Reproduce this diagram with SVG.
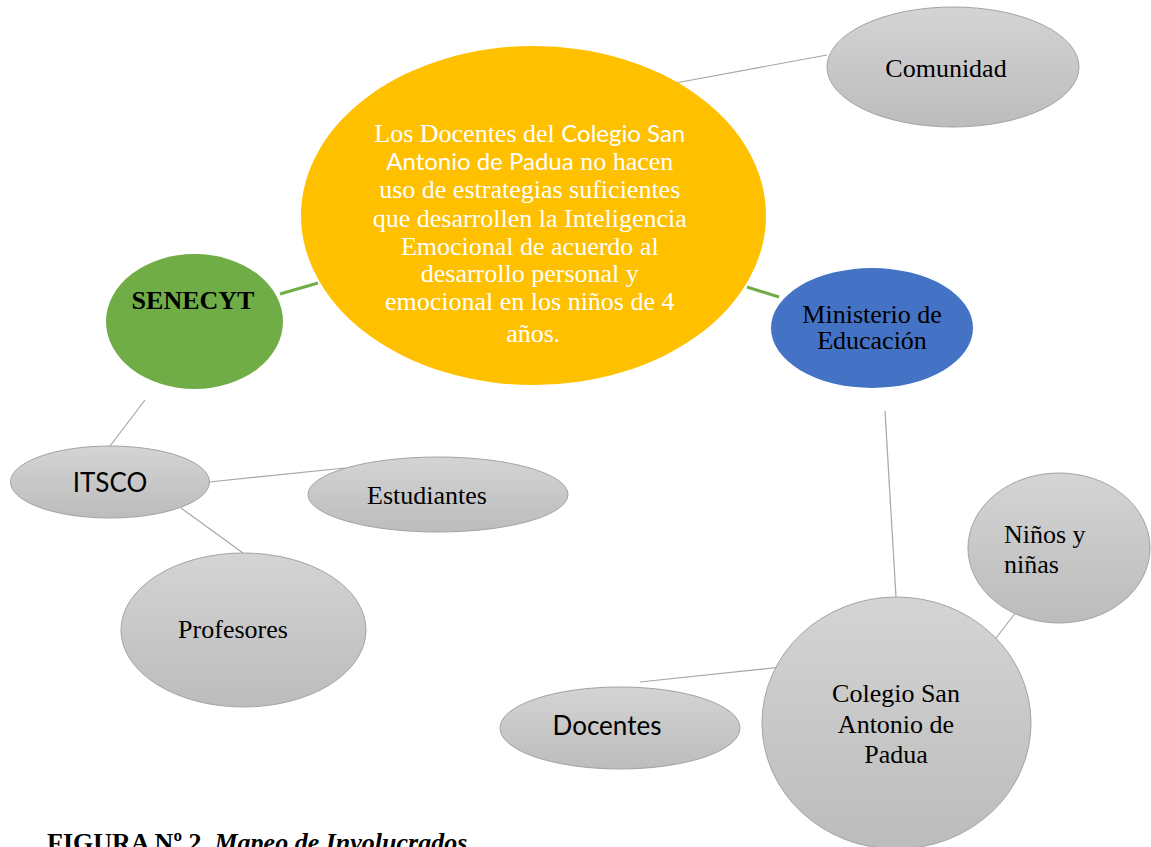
<svg xmlns="http://www.w3.org/2000/svg" width="1151" height="847" viewBox="0 0 1151 847">
<defs>
<linearGradient id="g" x1="0" y1="0" x2="0" y2="1">
<stop offset="0" stop-color="#d4d4d4"/>
<stop offset="1" stop-color="#bcbcbc"/>
</linearGradient>
<style>
.gray{fill:url(#g);stroke:#a3a3a3;stroke-width:1}
.t{font-family:"Liberation Serif","Times New Roman",serif;font-size:26px;fill:#000}
.s{font-family:Lato,"Liberation Sans",sans-serif}
.c{stroke:#a6a6a6;stroke-width:1.2;fill:none}
.gr{stroke:#70AD47;stroke-width:3;fill:none}
</style>
</defs>
<rect width="1151" height="847" fill="#fff"/>
<g id="connectors">
<line class="c" x1="670" y1="84" x2="827" y2="55"/>
<line class="gr" x1="280" y1="294" x2="318" y2="283"/>
<line class="gr" x1="747" y1="287" x2="779" y2="297"/>
<line class="c" x1="145" y1="400" x2="110" y2="446"/>
<line class="c" x1="209" y1="482" x2="345" y2="468"/>
<line class="c" x1="181" y1="508" x2="243" y2="553"/>
<line class="c" x1="885" y1="411" x2="896" y2="597"/>
<line class="c" x1="1016" y1="612" x2="993" y2="642"/>
<line class="c" x1="640" y1="682" x2="782" y2="667"/>
</g>
<g id="central">
<ellipse cx="533.5" cy="215.5" rx="232.5" ry="169.5" fill="#FFC000"/>
<text class="t" text-anchor="middle" style="fill:#fff">
<tspan x="533" y="142">Los Docentes del <tspan class="s" font-size="24">Colegio San</tspan></tspan>
<tspan x="533" y="170"><tspan class="s" font-size="24">Antonio de Padua</tspan> no hacen</tspan>
<tspan x="533" y="198">uso de estrategias suficientes</tspan>
<tspan x="533" y="227">que desarrollen la Inteligencia</tspan>
<tspan x="533" y="255">Emocional de acuerdo al</tspan>
<tspan x="533" y="282">desarrollo personal y</tspan>
<tspan x="533" y="310">emocional en los niños de 4</tspan>
<tspan x="533" y="342">años<tspan class="s" font-size="24">.</tspan></tspan>
</text>
</g>
<g id="comunidad">
<ellipse class="gray" cx="953" cy="67" rx="126" ry="60"/>
<text class="t" x="946" y="77" text-anchor="middle">Comunidad</text>
</g>
<g id="senecyt">
<ellipse cx="194.5" cy="321.5" rx="88.5" ry="67.5" fill="#70AD47"/>
<text class="t" x="193" y="309" text-anchor="middle" font-weight="bold" font-size="24">SENECYT</text>
</g>
<g id="ministerio">
<ellipse cx="872" cy="328" rx="101" ry="60" fill="#4472C4"/>
<text class="t" text-anchor="middle" font-size="25"><tspan x="872" y="323">Ministerio de</tspan><tspan x="872" y="349">Educación</tspan></text>
</g>
<g id="itsco">
<ellipse class="gray" cx="110" cy="482" rx="99.5" ry="36"/>
<text class="t s" x="110" y="492" text-anchor="middle" font-size="19.5">ITSCO</text>
</g>
<g id="estudiantes">
<ellipse class="gray" cx="438" cy="494.5" rx="130" ry="37.5"/>
<text class="t" x="427" y="504" text-anchor="middle">Estudiantes</text>
</g>
<g id="profesores">
<ellipse class="gray" cx="243.5" cy="630" rx="122.5" ry="77"/>
<text class="t" x="233" y="638" text-anchor="middle">Profesores</text>
</g>
<g id="colegio">
<ellipse class="gray" cx="896.5" cy="723" rx="134.5" ry="126"/>
<text class="t" text-anchor="middle"><tspan x="896" y="702">Colegio San</tspan><tspan x="896" y="733">Antonio de</tspan><tspan x="896" y="763">Padua</tspan></text>
</g>
<g id="ninos">
<ellipse class="gray" cx="1059" cy="548" rx="91" ry="75"/>
<text class="t"><tspan x="1004" y="543">Niños y</tspan><tspan x="1004" y="573">niñas</tspan></text>
</g>
<g id="docentes">
<ellipse class="gray" cx="620" cy="728" rx="120" ry="41"/>
<text class="t s" x="607" y="735" text-anchor="middle" font-size="22">Docentes</text>
</g>
<text class="t" x="47" y="851" font-weight="bold">FIGURA Nº 2. <tspan font-style="italic">Mapeo de Involucrados</tspan></text>
</svg>
